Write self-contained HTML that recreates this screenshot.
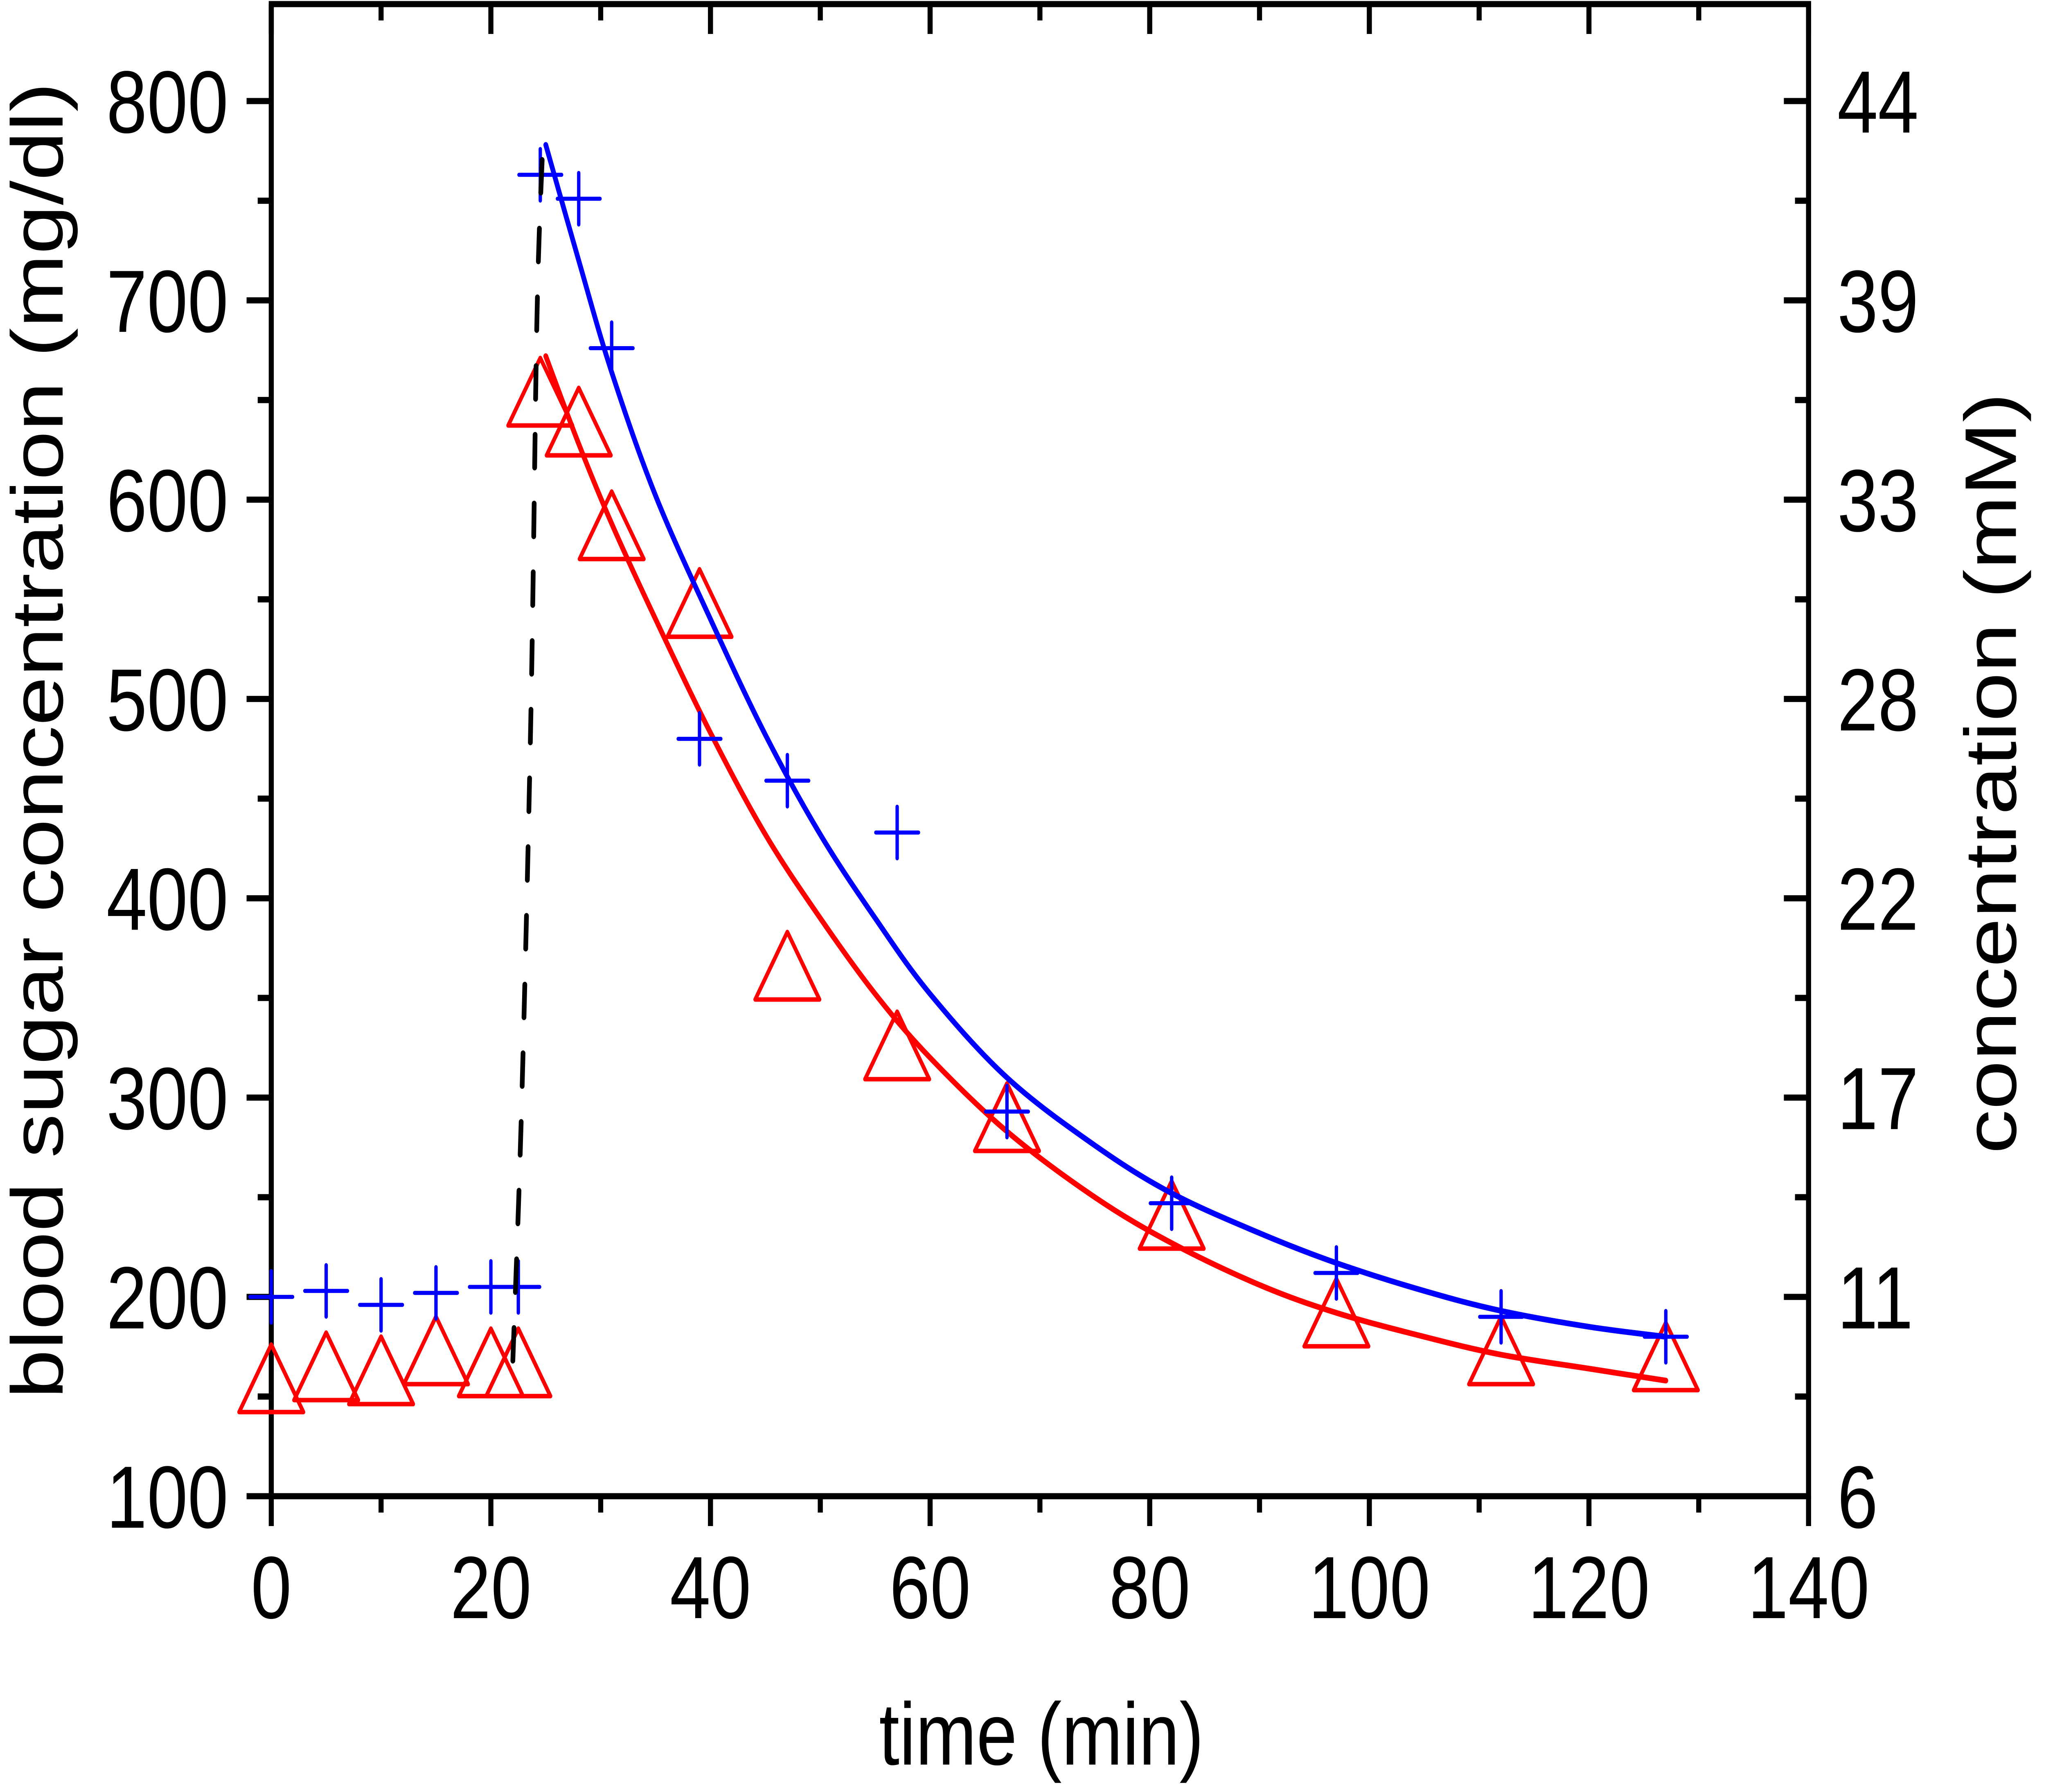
<!DOCTYPE html>
<html><head><meta charset="utf-8"><style>
html,body{margin:0;padding:0;background:#fff;width:100%;height:100%;overflow:hidden}
svg{display:block;width:100vw;height:100vh}
text{font-family:"Liberation Sans",Arial,sans-serif;fill:#000}
</style></head><body>
<svg id="chart" xmlns="http://www.w3.org/2000/svg" viewBox="0 0 6049 4380" preserveAspectRatio="none">
<g id="axes"></g>
<g id="series"></g>
<text x="3079" y="4313" font-size="216" text-anchor="middle">time (min)</text>
<text transform="translate(185,1810) rotate(-90)" font-size="216" text-anchor="middle">blood sugar concentration (mg/dl)</text>
<text transform="translate(5960,1890) rotate(-90)" font-size="216" text-anchor="middle">concentration (mM)</text>
</svg>
<script>
const xTicks=[0,20,40,60,80,100,120,140];
const yTicks=[100,200,300,400,500,600,700,800];
const yRightLabels=["6","11","17","22","28","33","39","44"];
const timesPre=[0,5,10,15,20,22.5];
const timesPost=[24.5,28,31,39,47,57,67,82,97,112,127];
const bluePre=[200,203,196,202,205,205];
const bluePost=[763,751,676,480,459,433,293,247,212,190,180];
const redPre=[157,163,161,171,165,165];
const redPost=[652,637,585,546,364,324,288,239,190,171,168];
const fitTimes=[25,28,31,35,40,45,50,55,60,67,75,82,90,97,105,112,120,127];
const blueFit=[778,720,664,602,540,482,432,390,352,310,276,252,232,217,203,193,185,180];
const redFit=[672,628,588,540,483,432,390,352,320,283,250,227,206,192,180,171,164,158];
const dashTimes=[22.0,22.8,23.65,24.2,24.7];
const dashValues=[168,296,494,692,775];

const L=802,R=5347,T=10,B=3657;
const X=t=>L+(t-0)*(R-L)/140;
const Y=v=>B-(v-100)*(B-247)/700;
const NS="http://www.w3.org/2000/svg";
const axes=document.getElementById('axes'), series=document.getElementById('series');
function mk(tag,attrs,parent){const e=document.createElementNS(NS,tag);for(const k in attrs)e.setAttribute(k,attrs[k]);parent.appendChild(e);return e;}

const frame=mk('rect',{x:L,y:T,width:R-L,height:B-T,fill:'none',stroke:'#000','stroke-width':15},axes);



for(let i=0;i<xTicks.length;i++){
  const x=X(xTicks[i]);
  const t=mk('line',{x1:x,y1:B,x2:x,y2:B+73,stroke:'#000','stroke-width':15},axes);
  
  
  const tt=mk('line',{x1:x,y1:T,x2:x,y2:T+73,stroke:'#000','stroke-width':15},axes);
  
  
  const lb=mk('text',{x:x,y:3955,'font-size':216,'text-anchor':'middle'},axes);
  lb.textContent=xTicks[i];
  
  
  if(i<xTicks.length-1){
    const xm=X((xTicks[i]+xTicks[i+1])/2);
    const m=mk('line',{x1:xm,y1:B,x2:xm,y2:B+40,stroke:'#000','stroke-width':15},axes);
    
    
    const m2=mk('line',{x1:xm,y1:T,x2:xm,y2:T+40,stroke:'#000','stroke-width':15},axes);
    
    
  }
}
for(let i=0;i<yTicks.length;i++){
  const y=Y(yTicks[i]);
  const t=mk('line',{x1:L-73,y1:y,x2:L,y2:y,stroke:'#000','stroke-width':15},axes);
  
  
  const tr=mk('line',{x1:R-73,y1:y,x2:R,y2:y,stroke:'#000','stroke-width':15},axes);
  
  
  const lb=mk('text',{x:675,y:y+77,'font-size':216,'text-anchor':'end'},axes);
  lb.textContent=yTicks[i];
  
  
  const lr=mk('text',{x:5432,y:y+77,'font-size':216,'text-anchor':'start'},axes);
  lr.textContent=yRightLabels[i];
  
  
  const vals=[(yTicks[i]-50),(yTicks[i]+50)];
  for(const v of vals){ if(v<100||v>850)continue;
    const ym=Y(v); if(ym<T+5)continue;
    const m=mk('line',{x1:L-40,y1:ym,x2:L,y2:ym,stroke:'#000','stroke-width':15},axes);
    
    
    const m2=mk('line',{x1:R-40,y1:ym,x2:R,y2:ym,stroke:'#000','stroke-width':15},axes);
    
    
  }
}

function smoothPath(ts,vs){
  const p=ts.map((t,i)=>[X(t),Y(vs[i])]);
  let d='M'+p[0][0]+','+p[0][1];
  for(let i=0;i<p.length-1;i++){
    const p0=p[Math.max(0,i-1)],p1=p[i],p2=p[i+1],p3=p[Math.min(p.length-1,i+2)];
    const c1=[p1[0]+(p2[0]-p0[0])/6,p1[1]+(p2[1]-p0[1])/6];
    const c2=[p2[0]-(p3[0]-p1[0])/6,p2[1]-(p3[1]-p1[1])/6];
    d+=' C'+c1[0]+','+c1[1]+' '+c2[0]+','+c2[1]+' '+p2[0]+','+p2[1];
  }
  return d;
}

const redT=timesPre.concat(timesPost), redV=redPre.concat(redPost);
for(let i=0;i<redT.length;i++){
  const cx=X(redT[i]),cy=Y(redV[i]);
  const tri=mk('polygon',{points:`${cx-95},${cy+72} ${cx+95},${cy+72} ${cx},${cy-93}`,fill:'none',stroke:'#ff0000','stroke-width':11,'stroke-linejoin':'round'},series);
  
  
}
const rf=mk('path',{d:smoothPath(fitTimes,redFit),fill:'none',stroke:'#ff0000','stroke-width':14,'stroke-linecap':'round'},series);


const bf=mk('path',{d:smoothPath(fitTimes,blueFit),fill:'none',stroke:'#0000ff','stroke-width':14,'stroke-linecap':'round'},series);


const blueT=timesPre.concat(timesPost), blueV=bluePre.concat(bluePost);
for(let i=0;i<blueT.length;i++){
  const cx=X(blueT[i]),cy=Y(blueV[i]);
  const pl=mk('path',{d:`M${cx-63},${cy}H${cx+63}M${cx},${cy-63}V${cy+63}`,fill:'none',stroke:'#0000ff','stroke-width':10,'stroke-linecap':'round'},series);
  
  
}
const dl=mk('path',{d:smoothPath(dashTimes,dashValues),fill:'none',stroke:'#000','stroke-width':14,'stroke-dasharray':'80 88','stroke-linecap':'round'},series);


</script>
</body></html>
